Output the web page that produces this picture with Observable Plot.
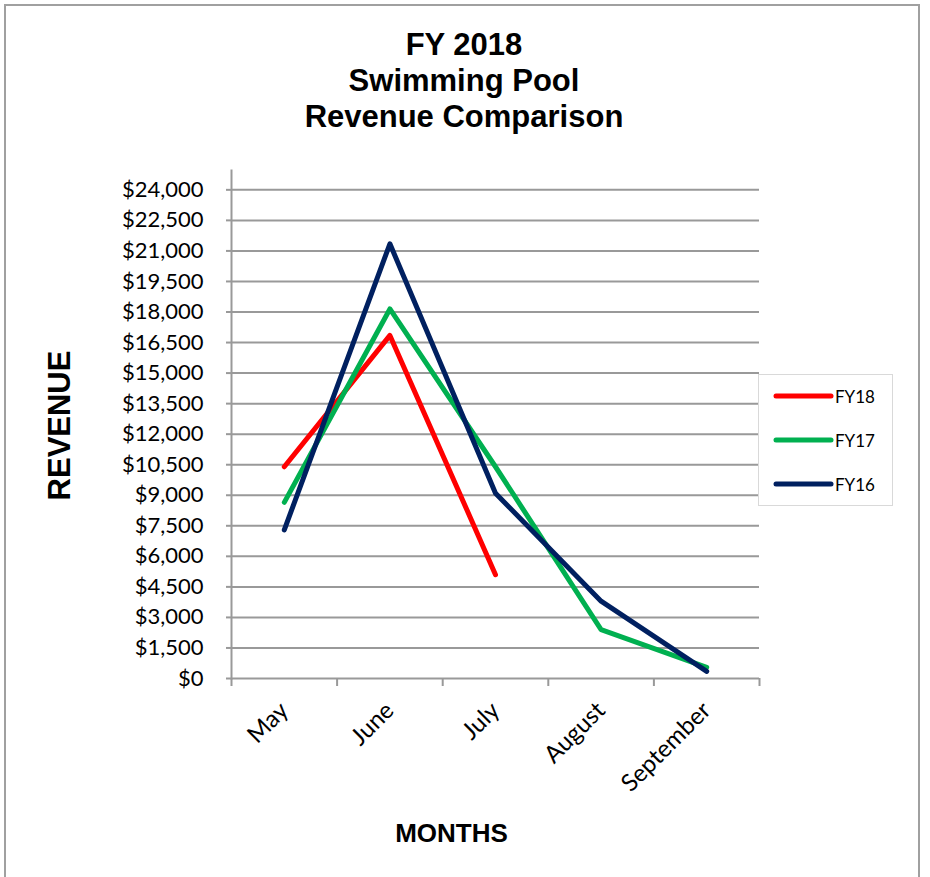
<!DOCTYPE html>
<html>
<head>
<meta charset="utf-8">
<script src="https://cdn.jsdelivr.net/npm/d3@7"></script>
<script src="https://cdn.jsdelivr.net/npm/@observablehq/plot@0.6"></script>
<style>
  html, body { margin: 0; padding: 0; background: #fff; overflow: hidden; }
  #wrap { position: relative; width: 930px; height: 877px; }
  #border { position: absolute; left: 4px; top: 4px; width: 916px; height: 900px; border: 2px solid #a0a0a0; box-sizing: border-box; }
  #chart { position: absolute; left: 0; top: 0; }
  #overlay { position: absolute; left: 0; top: 0; pointer-events: none; }
  #legend { position: absolute; left: 758px; top: 374px; width: 135px; height: 132px; border: 1.5px solid #d9d9d9; box-sizing: border-box; background: #fff; }
</style>
</head>
<body>
<div id="wrap">
  <div id="border"></div>
  <div id="chart"></div>
  <svg id="overlay" width="930" height="877"></svg>
  <div id="legend"></div>
</div>
<script>
// ---- data ----
const months = ["May", "June", "July", "August", "September"];
const fy18 = [10400, 16850, 5100, null, null];
const fy17 = [8650, 18150, 10400, 2400, 550];
const fy16 = [7300, 21350, 9100, 3800, 350];
const seriesNames = ["FY18", "FY17", "FY16"];
const seriesColors = ["#FF0000", "#00B050", "#002060"];
const yTickValues = [0, 1500, 3000, 4500, 6000, 7500, 9000, 10500, 12000, 13500, 15000, 16500, 18000, 19500, 21000, 22500, 24000];
const titleLines = ["FY 2018", "Swimming Pool", "Revenue Comparison"];
const yTitle = "REVENUE";
const xTitle = "MONTHS";

// ---- table ----
const seriesValues = [fy18, fy17, fy16];
const rows = [];
seriesNames.forEach((s, si) => {
  seriesValues[si].forEach((v, i) => {
    if (v != null) rows.push({ series: s, i, month: months[i], value: v });
  });
});
const centers = months.map((m, i) => i);
const boundaries = [-0.5, ...months.map((m, i) => i + 0.5)];
const fmt = d3.format("$,");

const chart = Plot.plot({
  width: 930,
  height: 877,
  marginLeft: 231,
  marginRight: 171,
  marginTop: 170,
  marginBottom: 199,
  style: { fontFamily: "Lato, 'Noto Sans', sans-serif", background: "transparent" },
  x: { type: "linear", domain: [-0.5, months.length - 0.5], axis: null },
  y: { domain: [0, 24950], axis: null },
  color: { domain: seriesNames, range: seriesColors },
  marks: [
    Plot.ruleY(yTickValues, { stroke: "#999", strokeWidth: 2 }),
    Plot.frame({ anchor: "left", stroke: "#999", strokeWidth: 2 }),
    Plot.axisY({ ticks: yTickValues, tickSize: 5, tickFormat: () => "", stroke: "#999", strokeWidth: 2, label: null }),
    Plot.axisY({ ticks: yTickValues, tickSize: 0, tickPadding: 28, tickFormat: fmt, fontSize: 22, fill: "#000", label: null }),
    Plot.axisX({ ticks: boundaries, tickSize: 8, tickFormat: () => "", stroke: "#999", strokeWidth: 2, label: null }),
    Plot.axisX({ ticks: centers, tickSize: 0, tickPadding: 28, tickRotate: -45, tickFormat: i => months[i], fontSize: 24, fill: "#000", label: null }),
    Plot.line(rows, { x: "i", y: "value", z: "series", stroke: "series", strokeWidth: 5, strokeLinecap: "round", strokeLinejoin: "round" })
  ]
});
document.getElementById("chart").appendChild(chart);

// ---- titles ----
const ov = d3.select("#overlay");
const baselines = [55, 91, 127];
titleLines.forEach((t, k) => {
  ov.append("text").attr("x", 464).attr("y", baselines[k]).attr("text-anchor", "middle")
    .attr("font-family", "'Liberation Sans', Arial, sans-serif").attr("font-weight", "bold")
    .attr("font-size", 31).text(t);
});
ov.append("text").attr("transform", "translate(70,425.5) rotate(-90)").attr("text-anchor", "middle")
  .attr("font-family", "'Liberation Sans', Arial, sans-serif").attr("font-weight", "bold")
  .attr("font-size", 31).text(yTitle);
ov.append("text").attr("x", 451.5).attr("y", 842).attr("text-anchor", "middle")
  .attr("font-family", "'Liberation Sans', Arial, sans-serif").attr("font-weight", "bold")
  .attr("font-size", 26).text(xTitle);

// ---- legend ----
const lg = d3.select("#legend").append("svg").attr("width", 135).attr("height", 132)
  .style("position", "absolute").style("left", "-1.5px").style("top", "-1.5px");
seriesNames.forEach((s, k) => {
  const y = 22 + k * 44;
  lg.append("line").attr("x1", 18).attr("x2", 73).attr("y1", y).attr("y2", y)
    .attr("stroke", seriesColors[k]).attr("stroke-width", 5).attr("stroke-linecap", "round");
  lg.append("text").attr("x", 77).attr("y", y + 7).attr("font-family", "Lato, 'Noto Sans', sans-serif")
    .attr("font-size", 17).attr("fill", "#000").text(s);
});
</script>
</body>
</html>
